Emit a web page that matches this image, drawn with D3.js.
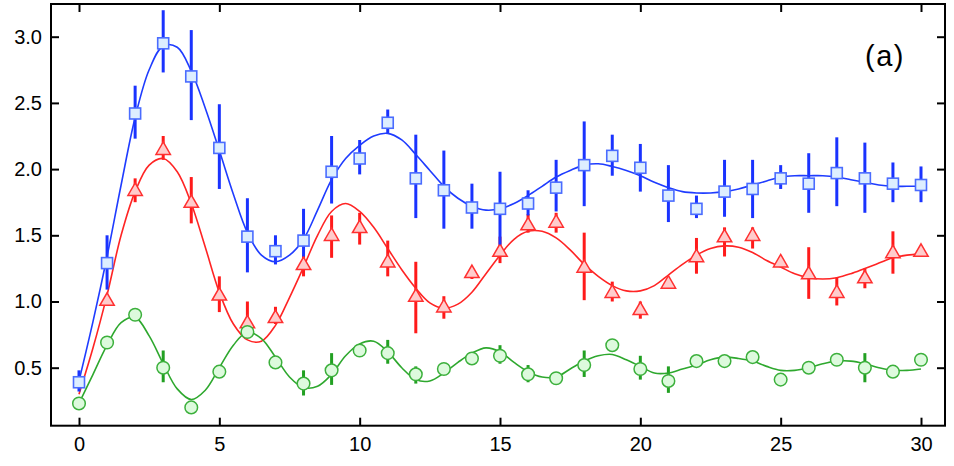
<!DOCTYPE html>
<html><head><meta charset="utf-8">
<script src="https://cdn.jsdelivr.net/npm/d3@7"></script>
<style>body{margin:0;background:#fff;}svg{display:block;font-family:"Liberation Sans",Arial,sans-serif;}</style>
</head><body>
<svg id="c" width="954" height="466"></svg>
<script>
const xTicks = [0,5,10,15,20,25,30];
const yTicks = [0.5,1.0,1.5,2.0,2.5,3.0];
const xs = d3.range(0,31);
// Blue squares
const blueVal = [0.39,1.29,2.42,2.95,2.70,2.16,1.49,1.38,1.46,1.98,2.08,2.35,1.93,1.84,1.71,1.70,1.74,1.86,2.03,2.10,2.01,1.80,1.70,1.83,1.85,1.93,1.89,1.97,1.93,1.89,1.88];
const blueLo  = [0.32,1.09,2.23,2.73,2.37,1.85,1.22,1.28,1.34,1.74,1.96,2.27,1.63,1.55,1.55,1.43,1.65,1.68,1.72,1.95,1.83,1.60,1.63,1.64,1.63,1.85,1.67,1.72,1.67,1.75,1.75];
const blueHi  = [0.48,1.50,2.63,3.20,3.05,2.49,1.78,1.50,1.70,2.25,2.22,2.45,2.26,2.14,1.89,1.98,1.84,2.07,2.36,2.26,2.19,2.03,1.80,2.07,2.07,2.03,2.12,2.24,2.20,2.05,2.02];
// Red triangles (x = 1..30)
const redX   = d3.range(1,31);
const redVal = [1.01,1.84,2.15,1.75,1.05,0.84,0.88,1.28,1.50,1.56,1.30,1.04,0.96,1.22,1.38,1.58,1.60,1.26,1.07,0.94,1.14,1.34,1.49,1.50,1.30,1.21,1.07,1.18,1.37,1.38];
const redLo  = [1.01,1.75,2.07,1.59,0.92,0.75,0.83,1.19,1.33,1.43,1.19,0.76,0.87,1.17,1.29,1.52,1.52,1.01,1.00,0.87,1.14,1.21,1.34,1.40,1.28,1.02,0.97,1.10,1.21,1.36];
const redHi  = [1.01,1.93,2.25,1.94,1.19,1.00,0.96,1.35,1.65,1.67,1.46,1.30,1.04,1.22,1.49,1.66,1.67,1.52,1.15,1.00,1.14,1.48,1.56,1.56,1.32,1.41,1.18,1.25,1.53,1.40];
// Green circles
const greenVal = [0.23,0.69,0.90,0.50,0.20,0.47,0.77,0.54,0.38,0.48,0.63,0.61,0.45,0.49,0.57,0.59,0.45,0.42,0.52,0.67,0.49,0.40,0.55,0.55,0.58,0.41,0.50,0.56,0.50,0.47,0.56];
const greenLo  = [0.23,0.69,0.90,0.39,0.20,0.47,0.77,0.54,0.29,0.37,0.63,0.53,0.38,0.49,0.57,0.53,0.39,0.42,0.43,0.67,0.41,0.31,0.55,0.53,0.58,0.41,0.50,0.56,0.39,0.47,0.56];
const greenHi  = [0.23,0.69,0.90,0.63,0.20,0.47,0.77,0.54,0.48,0.61,0.63,0.71,0.51,0.49,0.57,0.67,0.52,0.42,0.63,0.67,0.59,0.51,0.55,0.59,0.58,0.41,0.50,0.56,0.61,0.47,0.56];
// Fitted curves at half-unit steps
const fitX = d3.range(0,30.5,0.5);
const blueFit = [0.40,0.85,1.34,1.88,2.39,2.75,2.93,2.92,2.74,2.46,2.14,1.81,1.52,1.35,1.30,1.35,1.47,1.69,1.92,2.08,2.18,2.25,2.27,2.22,2.11,1.99,1.87,1.78,1.72,1.69,1.70,1.74,1.80,1.87,1.94,1.99,2.03,2.04,2.02,1.99,1.95,1.90,1.86,1.83,1.82,1.82,1.83,1.85,1.88,1.91,1.94,1.95,1.95,1.95,1.94,1.92,1.90,1.88,1.87,1.87,1.87];
const redFit = [0.30,0.65,1.05,1.50,1.83,2.03,2.08,1.98,1.74,1.41,1.07,0.83,0.71,0.70,0.82,1.03,1.26,1.50,1.68,1.74,1.68,1.56,1.40,1.24,1.10,0.99,0.95,0.98,1.07,1.21,1.35,1.47,1.53,1.53,1.48,1.39,1.28,1.19,1.12,1.08,1.08,1.12,1.20,1.28,1.35,1.40,1.42,1.41,1.37,1.31,1.26,1.21,1.18,1.17,1.18,1.21,1.25,1.29,1.33,1.35,1.36];
const greenFit = [0.23,0.45,0.67,0.84,0.88,0.74,0.53,0.34,0.26,0.33,0.50,0.67,0.77,0.72,0.58,0.43,0.35,0.36,0.45,0.59,0.68,0.70,0.62,0.50,0.41,0.40,0.46,0.54,0.61,0.65,0.62,0.54,0.47,0.43,0.43,0.49,0.55,0.59,0.60,0.56,0.51,0.46,0.46,0.49,0.52,0.56,0.58,0.57,0.55,0.51,0.48,0.48,0.50,0.53,0.55,0.55,0.53,0.50,0.48,0.48,0.49];

const svg = d3.select("#c");
const x = d3.scaleLinear().domain([0,30]).range([79,921]);
const y = d3.scaleLinear().domain([0.5,3.0]).range([367.7,36.7]);
const L=51, R=945, T=4, B=425.7;

const gx = svg.append("g").attr("transform",`translate(0,${B})`)
  .call(d3.axisBottom(x).tickValues(xTicks).tickFormat(d3.format("d")).tickSizeInner(-8).tickSizeOuter(0).tickPadding(11));
const gxt = svg.append("g").attr("transform",`translate(0,${T})`)
  .call(d3.axisTop(x).tickValues(xTicks).tickFormat("").tickSizeInner(-8).tickSizeOuter(0));
const gy = svg.append("g").attr("transform",`translate(${L},0)`)
  .call(d3.axisLeft(y).tickValues(yTicks).tickFormat(d3.format(".1f")).tickSizeInner(-8).tickSizeOuter(0).tickPadding(9));
const gyr = svg.append("g").attr("transform",`translate(${R},0)`)
  .call(d3.axisRight(y).tickValues(yTicks).tickFormat("").tickSizeInner(-8).tickSizeOuter(0));
[gx,gxt,gy,gyr].forEach(g=>{
  g.select(".domain").remove();
  g.selectAll(".tick line").attr("stroke","#000").attr("stroke-width",2);
  g.selectAll(".tick text").attr("font-size",20).attr("fill","#000").attr("font-family","Liberation Sans, Arial, sans-serif");
});

const line = d3.line().x((d,i)=>x(fitX[i])).y(d=>y(d)).curve(d3.curveCatmullRom);

function errBars(xv, lo, hi, color){
  svg.append("g").selectAll("line").data(xv).join("line")
    .attr("x1",d=>x(d)).attr("x2",d=>x(d))
    .attr("y1",(d,i)=>y(lo[i])).attr("y2",(d,i)=>y(hi[i]))
    .attr("stroke",color).attr("stroke-width",3);
}

// Red
errBars(redX, redLo, redHi, "#ff1a1a");
svg.append("path").datum(redFit).attr("d",line).attr("fill","none").attr("stroke","#ff2424").attr("stroke-width",1.6);
const tri = d3.symbol().type(d3.symbolTriangle).size(90);
svg.append("g").selectAll("path").data(redX).join("path")
  .attr("d",tri).attr("transform",(d,i)=>`translate(${x(d)},${y(redVal[i])+1})`)
  .attr("fill","#ffcccc").attr("stroke","#ff3030").attr("stroke-width",1.5);

// Blue
errBars(xs, blueLo, blueHi, "#1a33ff");
svg.append("path").datum(blueFit).attr("d",line).attr("fill","none").attr("stroke","#1f3cff").attr("stroke-width",1.6);
svg.append("g").selectAll("rect").data(xs).join("rect")
  .attr("x",d=>x(d)-5.5).attr("y",(d,i)=>y(blueVal[i])-5.5).attr("width",11).attr("height",11)
  .attr("fill","#ddeeff").attr("stroke","#4a6cff").attr("stroke-width",1.6);

// Green
errBars(xs, greenLo, greenHi, "#22a022");
svg.append("path").datum(greenFit).attr("d",line).attr("fill","none").attr("stroke","#2ea82e").attr("stroke-width",1.6);
svg.append("g").selectAll("circle").data(xs).join("circle")
  .attr("cx",d=>x(d)).attr("cy",(d,i)=>y(greenVal[i])).attr("r",6.3)
  .attr("fill","#ddfadd").attr("stroke","#3cb03c").attr("stroke-width",1.5);

// Frame
svg.append("rect").attr("x",L).attr("y",T).attr("width",R-L).attr("height",B-T)
  .attr("fill","none").attr("stroke","#000").attr("stroke-width",2);

svg.append("text").attr("x",885).attr("y",65.5).attr("text-anchor","middle")
  .attr("font-size",29).attr("letter-spacing",1.5).attr("fill","#000").text("(a)");
</script>
</body></html>
